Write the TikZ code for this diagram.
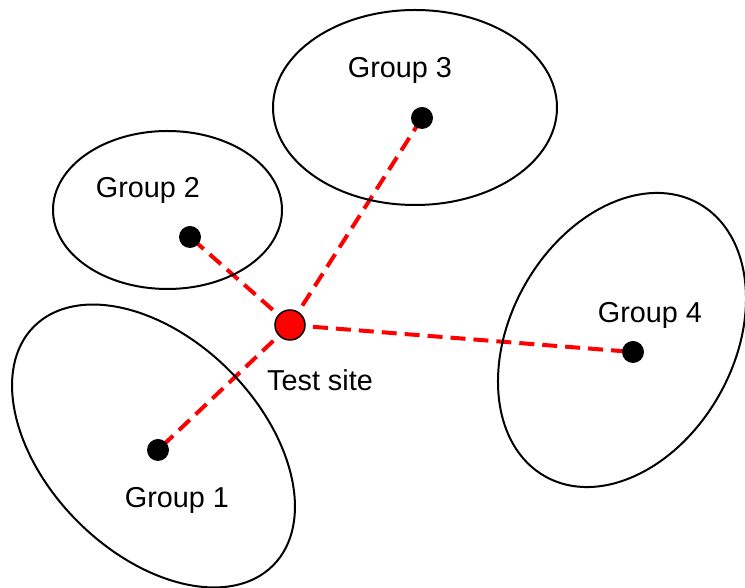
\documentclass[tikz,border=0pt]{standalone}
\usepackage{fontspec}
\setmainfont{Liberation Sans}
\usetikzlibrary{backgrounds}
\tikzset{
	dot/.style={circle,inner sep=0pt,minimum size=22pt,fill},
	rdot/.style={circle,inner sep=0pt,minimum size=30pt,fill=red,draw=black,line width=1.5pt},
	txt/.style={inner sep=0pt,font=\fontsize{28.8}{34}\selectfont},
	grp/.style={line width=2pt},
	link/.style={red,line width=4pt,dash pattern=on 15pt off 8pt}
}
\begin{document}
\begin{tikzpicture}[x=1pt,y=1pt]
	\useasboundingbox (0,0) rectangle (745,588);

	\draw [grp] (153.5,142) ellipse [x radius=169,y radius=107,rotate=-45];
	\draw [grp] (167.5,378) ellipse [x radius=114.5,y radius=79];
	\draw [grp] (415,480.5) ellipse [x radius=142,y radius=97.5];
	\draw [grp] (622,248) ellipse [x radius=156.6,y radius=111.7,rotate=60.6];

	\node [dot] (g1) at (158,138) {};
	\node [dot] (g2) at (190,351) {};
	\node [dot] (g3) at (422,470) {};
	\node [dot] (g4) at (633,236) {};
	\node [rdot] (ts) at (290,263) {};

	\node [txt] (l1) at (177,88) {Group 1};
	\node [txt] (l2) at (148,398) {Group 2};
	\node [txt] (l3) at (400,518) {Group 3};
	\node [txt] (l4) at (650,273) {Group 4};
	\node [txt] (lts) at (320,208) {Test site};

	\begin{scope}[on background layer]
		\draw [link] (ts.center) -- (g1.center);
		\draw [link] (ts.center) -- (g2.center);
		\draw [link] (ts.center) -- (g3.center);
		\draw [link] (ts.center) -- (g4.center);
	\end{scope}
\end{tikzpicture}
\end{document}
